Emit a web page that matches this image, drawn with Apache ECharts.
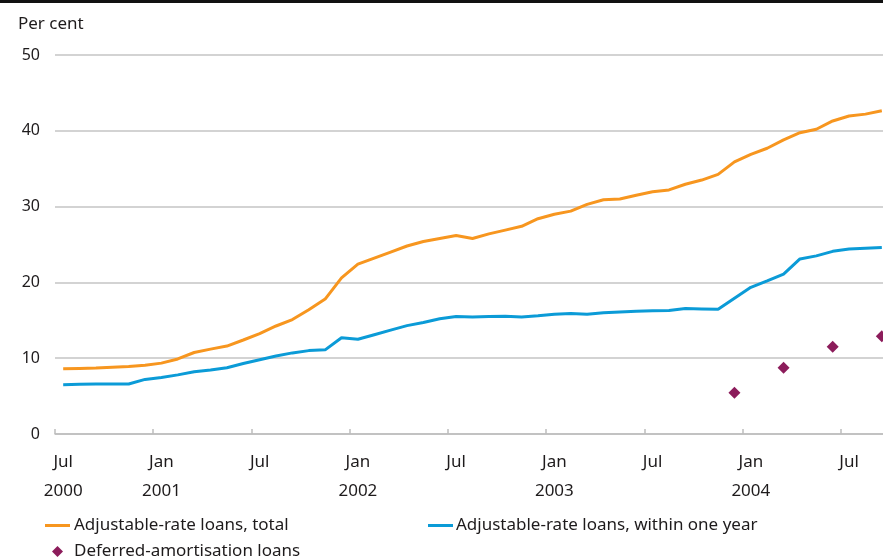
<!DOCTYPE html>
<html>
<head>
<meta charset="utf-8">
<script src="https://cdn.jsdelivr.net/npm/echarts@6/dist/echarts.min.js"></script>
<style>
html,body{margin:0;padding:0;background:#fff;}
#chart{width:883px;height:557px;}
</style>
</head>
<body>
<div id="chart"></div>
<script>
const categories = [
  'Jul 2000','Aug 2000','Sep 2000','Oct 2000','Nov 2000','Dec 2000',
  'Jan 2001','Feb 2001','Mar 2001','Apr 2001','May 2001','Jun 2001',
  'Jul 2001','Aug 2001','Sep 2001','Oct 2001','Nov 2001','Dec 2001',
  'Jan 2002','Feb 2002','Mar 2002','Apr 2002','May 2002','Jun 2002',
  'Jul 2002','Aug 2002','Sep 2002','Oct 2002','Nov 2002','Dec 2002',
  'Jan 2003','Feb 2003','Mar 2003','Apr 2003','May 2003','Jun 2003',
  'Jul 2003','Aug 2003','Sep 2003','Oct 2003','Nov 2003','Dec 2003',
  'Jan 2004','Feb 2004','Mar 2004','Apr 2004','May 2004','Jun 2004',
  'Jul 2004','Aug 2004','Sep 2004'
];
const adjustableTotal = [
  8.6, 8.65, 8.7, 8.8, 8.9, 9.06,
  9.35, 9.9, 10.75, 11.2, 11.6, 12.4,
  13.25, 14.25, 15.1, 16.4, 17.8, 20.6,
  22.4, 23.2, 24.0, 24.8, 25.4, 25.8,
  26.2, 25.8, 26.4, 26.9, 27.4, 28.4,
  29.0, 29.4, 30.3, 30.9, 31.0, 31.5,
  31.95, 32.2, 32.95, 33.5, 34.25, 35.9,
  36.9, 37.7, 38.8, 39.75, 40.2, 41.3,
  41.95, 42.2, 42.65
];
const adjustableOneYear = [
  6.5, 6.55, 6.6, 6.6, 6.6, 7.2,
  7.45, 7.8, 8.2, 8.45, 8.75, 9.3,
  9.8, 10.3, 10.7, 11.0, 11.1, 12.7,
  12.5, 13.1, 13.7, 14.3, 14.7, 15.2,
  15.5, 15.45, 15.5, 15.55, 15.45, 15.6,
  15.8, 15.9, 15.8, 16.0, 16.1, 16.2,
  16.25, 16.3, 16.55, 16.5, 16.45, 17.9,
  19.35, 20.2, 21.1, 23.1, 23.5, 24.1,
  24.4, 24.5, 24.6
];
const deferredAmortisation = [
  '-', '-', '-', '-', '-', '-',
  '-', '-', '-', '-', '-', '-',
  '-', '-', '-', '-', '-', '-',
  '-', '-', '-', '-', '-', '-',
  '-', '-', '-', '-', '-', '-',
  '-', '-', '-', '-', '-', '-',
  '-', '-', '-', '-', '-', 5.45,
  '-', '-', 8.75, '-', '-', 11.5,
  '-', '-', 12.9
];
const seriesNames = ['Adjustable-rate loans, total', 'Adjustable-rate loans, within one year', 'Deferred-amortisation loans'];
const yTicks = [0, 10, 20, 30, 40, 50];

const FONT = '"Noto Sans", "Open Sans", sans-serif';
const TEXT = '#1e1b1c';
const isTickMonth = (i) => { const m = categories[i].slice(0,3); return m === 'Jan' || m === 'Jul'; };

const chart = echarts.init(document.getElementById('chart'), null, {renderer: 'canvas'});
chart.setOption({
  animation: false,
  backgroundColor: '#fff',
  textStyle: {fontFamily: FONT},
  graphic: [
    {type: 'rect', left: 0, top: 0, shape: {width: 883, height: 3}, style: {fill: '#111'}},
    {type: 'text', left: 18, top: 16, style: {text: 'Per cent', font: '17px ' + FONT, fill: TEXT}}
  ],
  grid: {left: 55, right: -7, top: 55, bottom: 123, containLabel: false, outerBoundsMode: 'none'},
  xAxis: {
    type: 'category',
    data: categories,
    boundaryGap: true,
    axisLine: {show: true, lineStyle: {color: '#bdbdbd', width: 1.5}},
    axisTick: {show: true, inside: true, length: 5, interval: (i) => isTickMonth(i), lineStyle: {color: '#bdbdbd', width: 1.5}},
    axisLabel: {
      interval: (i) => isTickMonth(i),
      margin: 14,
      color: TEXT,
      fontSize: 17,
      fontFamily: FONT,
      lineHeight: 29,
      formatter: (v, i) => {
        const [m, y] = v.split(' ');
        return (m === 'Jan' || i === 0) ? m + '\n' + y : m;
      }
    },
    splitLine: {show: false}
  },
  yAxis: {
    type: 'value',
    min: yTicks[0],
    max: yTicks[yTicks.length - 1],
    interval: 10,
    axisLine: {show: false},
    axisTick: {show: false},
    axisLabel: {color: TEXT, fontSize: 16, fontFamily: FONT, margin: 15},
    splitLine: {lineStyle: {color: '#c4c4c4', width: 1.5}}
  },
  legend: [
    {data: [seriesNames[0]], left: 45, top: 517, padding: 0, icon: 'rect', itemWidth: 25, itemHeight: 3,
      textStyle: {color: TEXT, fontSize: 17, fontFamily: FONT, padding: [0,0,0,-1]}},
    {data: [seriesNames[1]], left: 428, top: 517, padding: 0, icon: 'rect', itemWidth: 25, itemHeight: 3,
      textStyle: {color: TEXT, fontSize: 17, fontFamily: FONT, padding: [0,0,0,-2]}},
    {data: [seriesNames[2]], left: 52, top: 543, padding: 0, icon: 'diamond', itemWidth: 11, itemHeight: 11,
      textStyle: {color: TEXT, fontSize: 17, fontFamily: FONT, padding: [0,0,0,6]}}
  ],
  series: [
    {name: seriesNames[0], type: 'line', data: adjustableTotal, symbol: 'none', color: '#f7961f',
      lineStyle: {width: 3, color: '#f7961f'}},
    {name: seriesNames[1], type: 'line', data: adjustableOneYear, symbol: 'none', color: '#0b9bd7',
      lineStyle: {width: 3, color: '#0b9bd7'}},
    {name: seriesNames[2], type: 'scatter', data: deferredAmortisation, symbol: 'diamond', symbolSize: 12,
      color: '#8c1c5b', itemStyle: {color: '#8c1c5b', opacity: 1}}
  ]
});
</script>
</body>
</html>
